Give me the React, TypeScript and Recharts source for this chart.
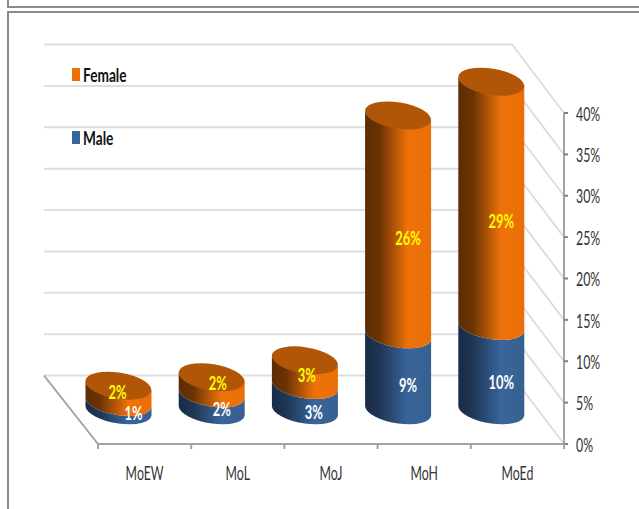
import React from "react";
import { ComposedChart, Bar, CartesianGrid, LabelList, Legend, Line, XAxis, YAxis } from "recharts";

const categories = ["MoEW", "MoL", "MoJ", "MoH", "MoEd"];
const male = [1, 2, 3, 9, 10];
const female = [2, 2, 3, 26, 29];
const yTicks = [0, 5, 10, 15, 20, 25, 30, 35, 40];

// where each value label sits relative to the middle of its segment
const maleNudge = [[15, 6], [10, 6], [9, 13], [10, 11], [10, 13]];
const femaleNudge = [[-1, -3], [6, -3], [2, 1], [10, 12], [10, 16]];

const data = categories.map((name, i) => ({ name, male: male[i], female: female[i] }));

const WIDTH = 639;
const HEIGHT = 509;
const X_AXIS_H = 30;
const margin = { top: 113, right: 0, bottom: 65 - X_AXIS_H, left: 98 };
const AXIS_W = 75;
const BAND = (WIDTH - margin.left - AXIS_W) / categories.length;
const FLOOR_Y = HEIGHT - margin.bottom - X_AXIS_H;

// 3D projection of the chart box
const DEPTH_Y = 68.5;
const BAR_SHIFT_X = -26.5;
const BAR_SHIFT_Y = -33;

// tilted ellipse used for the cylinder ends
const RX = 33.4;
const RY = 13.1;
const TILT = 9.2;
const EDGE_HALF_W = 33;
const EDGE_DROP = 4.5;

const FONT = 'Lato, "Liberation Sans", sans-serif';
const SQUEEZE = 0.65;
const GRID = "#dedede";
const AXIS = "#a3a3a3";
const TEXT = "#333333";

// Condensed text, none of the installed fonts is narrow enough
function Squeezed({ x, y, fill, anchor = "middle", bold = false, children }: any) {
    return (
        <text
            transform={`translate(${x} ${y}) scale(${bold ? 0.68 : SQUEEZE} 1)`}
            fill={fill}
            fontFamily={FONT}
            fontSize={19}
            fontWeight={bold ? 700 : 400}
            textAnchor={anchor}
            dominantBaseline="central"
        >
            {children}
        </text>
    );
}

function Cylinder(props: any) {
    const { x, y, width, height, gradient, cap } = props;
    const cx = x + width / 2 + BAR_SHIFT_X;
    const top = y + BAR_SHIFT_Y;
    const bottom = top + height;
    const lx = cx - EDGE_HALF_W;
    const rx = cx + EDGE_HALF_W;
    const arc = `${RX} ${RY} ${TILT}`;
    const body =
        `M${lx} ${top - EDGE_DROP} L${lx} ${bottom - EDGE_DROP} ` +
        `A${arc} 0 0 ${rx} ${bottom + EDGE_DROP} L${rx} ${top + EDGE_DROP} ` +
        `A${arc} 0 1 ${lx} ${top - EDGE_DROP} Z`;
    return (
        <g>
            <path d={body} fill={`url(#${gradient})`} />
            {cap && <ellipse cx={cx} cy={top} rx={RX} ry={RY} fill={cap} transform={`rotate(${TILT} ${cx} ${top})`} />}
        </g>
    );
}

function valueLabel(nudge: number[][], color: string) {
    return (props: any) => {
        const { x, y, width, height, index, value } = props;
        const cx = x + width / 2 + BAR_SHIFT_X + nudge[index][0];
        const cy = y + height / 2 + BAR_SHIFT_Y + nudge[index][1];
        return (
            <Squeezed x={cx} y={cy} fill={color} bold>
                {value}%
            </Squeezed>
        );
    };
}

// Wall line behind the plot plus the slanted piece running out to the value axis
function WallLine(props: any) {
    const { x1, x2, y1 } = props;
    const backY = y1 - DEPTH_Y;
    const atFloor = Math.abs(y1 - FLOOR_Y) < 1;
    return (
        <g fill="none" strokeWidth={2}>
            <path d={`M${x1 - 54} ${backY} L${x2 - 52} ${backY} L${x2} ${y1}`} stroke={GRID} />
            {atFloor && <path d={`M${x1 - 54} ${backY} L${x1} ${y1}`} stroke={AXIS} />}
        </g>
    );
}

function CategoryTick(props: any) {
    const { x, y, index, payload } = props;
    const left = x - BAND / 2;
    return (
        <g>
            <line x1={left} x2={left} y1={y - 8} y2={y - 3} stroke={AXIS} strokeWidth={2} />
            {index === categories.length - 1 && <line x1={x + BAND / 2} x2={x + BAND / 2} y1={y - 8} y2={y - 3} stroke={AXIS} strokeWidth={2} />}
            <Squeezed x={x} y={y + 20} fill={TEXT}>
                {payload.value}
            </Squeezed>
        </g>
    );
}

function ValueTick(props: any) {
    const { x, y, payload } = props;
    return (
        <Squeezed x={x} y={y} fill={TEXT} anchor="start">
            {payload.value}%
        </Squeezed>
    );
}

function LegendBox({ payload }: any) {
    return (
        <div style={{ fontFamily: FONT, fontSize: 19, fontWeight: 700, color: "#111" }}>
            {payload
                .filter((item: any) => item.type !== "none")
                .map((item: any) => (
                    <div key={item.value} style={{ display: "flex", alignItems: "center", height: 20, marginBottom: 43 }}>
                        <span style={{ width: 8, height: 13, marginRight: 3, background: item.color }}></span>
                        <span style={{ transform: "scaleX(0.72)", transformOrigin: "left center" }}>{item.value}</span>
                    </div>
                ))}
        </div>
    );
}

export default function App() {
    return (
        <div style={{ position: "absolute", left: 0, top: 0, width: WIDTH, height: HEIGHT, overflow: "hidden", background: "#fff" }}>
            <div style={{ position: "absolute", left: 7, top: -10, width: 640, height: 14, border: "2px solid #8c8c8c" }}></div>
            <div style={{ position: "absolute", left: 7, top: 11, width: 640, height: 520, border: "2px solid #8c8c8c" }}></div>
            <ComposedChart width={WIDTH} height={HEIGHT} data={data} margin={margin} barSize={66} style={{ position: "absolute", left: 0, top: 0 }}>
                <defs>
                    <linearGradient id="orangeBody" x1="0" y1="0" x2="1" y2="0">
                        <stop offset="0" stopColor="#5c2c03" />
                        <stop offset="0.22" stopColor="#6b3404" />
                        <stop offset="0.65" stopColor="#ef7209" />
                        <stop offset="1" stopColor="#ea6f08" />
                    </linearGradient>
                    <linearGradient id="blueBody" x1="0" y1="0" x2="1" y2="0">
                        <stop offset="0" stopColor="#192b45" />
                        <stop offset="0.22" stopColor="#1f3655" />
                        <stop offset="0.65" stopColor="#39659b" />
                        <stop offset="1" stopColor="#36608f" />
                    </linearGradient>
                </defs>
                <CartesianGrid yAxisId="value" vertical={false} horizontal={(p: any) => <WallLine key={p.key} {...p} />} />
                <XAxis dataKey="name" height={X_AXIS_H} axisLine={{ stroke: AXIS, strokeWidth: 2 }} tickLine={false} interval={0} tick={CategoryTick} />
                <YAxis
                    yAxisId="value"
                    orientation="right"
                    domain={[0, 40]}
                    ticks={yTicks}
                    interval={0}
                    tick={ValueTick}
                    axisLine={{ stroke: AXIS, strokeWidth: 2 }}
                    tickLine={{ stroke: "#808080", strokeWidth: 2 }}
                    tickSize={4}
                    tickMargin={8}
                    width={AXIS_W}
                />
                {/* cylinders stand mid-depth, so they read slightly taller than the front axis */}
                <YAxis yAxisId="bars" hide domain={[0, 39.2]} />
                <Legend
                    content={<LegendBox />}
                    layout="vertical"
                    align="center"
                    verticalAlign="middle"
                    wrapperStyle={{ position: "absolute", left: 72, top: 64, width: 100, height: 100, margin: 0 }}
                />
                {/* keeps the front axis tied to a series so it gets its ticks */}
                <Line yAxisId="value" dataKey="male" stroke="none" dot={false} activeDot={false} legendType="none" isAnimationActive={false} />
                <Bar
                    yAxisId="bars"
                    dataKey="male"
                    name="Male"
                    stackId="a"
                    fill="#38659b"
                    isAnimationActive={false}
                    shape={(p: any) => <Cylinder {...p} gradient="blueBody" />}
                >
                    <LabelList dataKey="male" content={valueLabel(maleNudge, "#ffffff")} />
                </Bar>
                <Bar
                    yAxisId="bars"
                    dataKey="female"
                    name="Female"
                    stackId="a"
                    fill="#ee7105"
                    isAnimationActive={false}
                    shape={(p: any) => <Cylinder {...p} gradient="orangeBody" cap="#b15606" />}
                >
                    <LabelList dataKey="female" content={valueLabel(femaleNudge, "#ffff00")} />
                </Bar>
            </ComposedChart>
        </div>
    );
}
